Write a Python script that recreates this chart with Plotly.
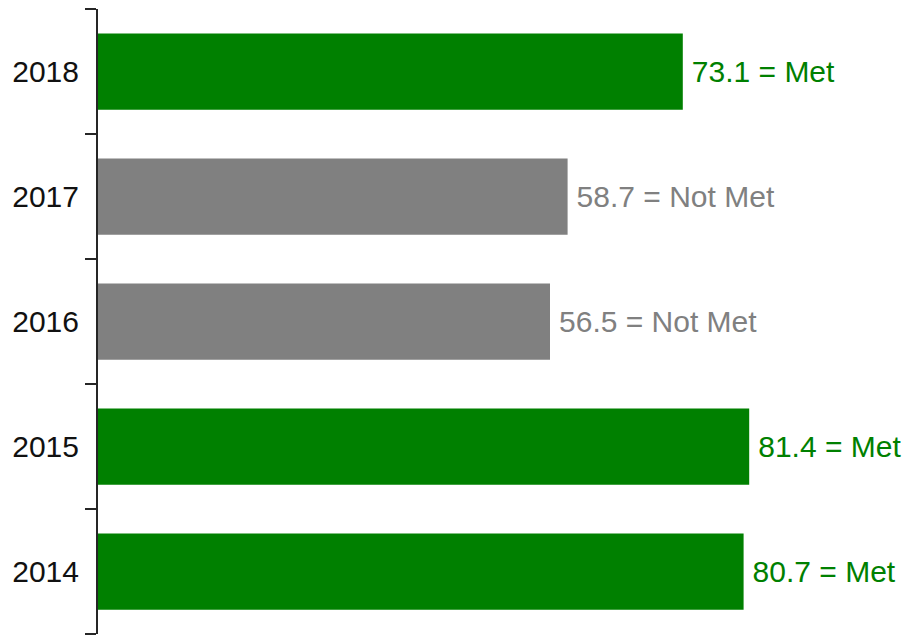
import plotly.graph_objects as go

years = ["2014", "2015", "2016", "2017", "2018"]
values = [80.7, 81.4, 56.5, 58.7, 73.1]
status = ["Met", "Met", "Not Met", "Not Met", "Met"]

GREEN = "#008000"
GREY = "#808080"
colors = [GREEN if s == "Met" else GREY for s in status]
labels = [f"\u2009{v} = {s}" for v, s in zip(values, status)]

fig = go.Figure(go.Bar(
    y=years, x=values, orientation="h",
    marker=dict(color=colors, line=dict(width=0)),
    text=labels, textposition="outside",
    textfont=dict(family="Liberation Sans, Arial", size=30, color=colors),
    cliponaxis=False,
    constraintext="none",
))

fig.update_layout(
    width=905, height=636,
    margin=dict(l=98, r=0, t=9, b=2, autoexpand=False),
    plot_bgcolor="white", paper_bgcolor="white",
    bargap=0.39,
    showlegend=False,
    xaxis=dict(range=[0, 100.875], visible=False, showgrid=False, zeroline=False,
               automargin=False),
    yaxis=dict(
        type="category", categoryorder="array", categoryarray=years,
        automargin=False,
        showline=True, linecolor="#262626", linewidth=2,
        ticks="outside", tickson="boundaries", ticklen=11, tickwidth=2, tickcolor="#262626",
        ticklabelstandoff=11,
        showgrid=False,
        tickfont=dict(family="Liberation Sans, Arial", size=30, color="#111111"),
    ),
)

fig.write_html(
    "out.html",
    config={"displayModeBar": False},
    post_script="document.body.style.margin='0';document.body.style.overflow='hidden';",
)
